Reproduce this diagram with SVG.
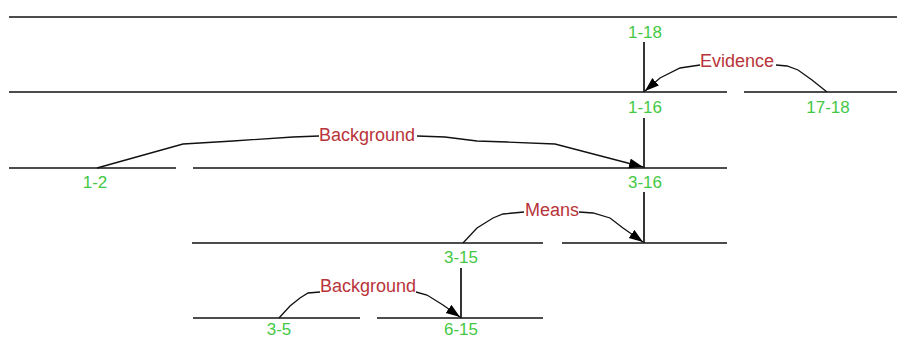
<svg xmlns="http://www.w3.org/2000/svg" width="897" height="339" viewBox="0 0 897 339">
  <style>
    .span { stroke: #111; stroke-width: 1.7; fill: none; }
    .conn { stroke: #111; stroke-width: 1.3; fill: none; }
    .lbl { font-family: "Liberation Sans", Arial, sans-serif; font-size: 17px; fill: #44c844; text-anchor: middle; }
    .rel { font-family: "Liberation Sans", Arial, sans-serif; font-size: 18px; fill: #b8343a; }
  </style>
  <defs>
    <marker id="arr" markerUnits="userSpaceOnUse" markerWidth="16" markerHeight="12" refX="14" refY="5" orient="auto">
      <path d="M0,0 L14,5 L0,10 Z" fill="#000"/>
    </marker>
  </defs>
  <rect width="897" height="339" fill="#fff"/>

  <g id="node-1-18">
    <line class="span" x1="9" y1="17" x2="897" y2="17"/>
    <text class="lbl" x="645" y="38">1-18</text>
  </g>
  <g id="node-1-16">
    <line class="span" x1="9" y1="92" x2="727" y2="92"/>
    <text class="lbl" x="645" y="113">1-16</text>
  </g>
  <g id="node-17-18">
    <line class="span" x1="744" y1="92" x2="897" y2="92"/>
    <text class="lbl" x="828" y="113">17-18</text>
  </g>
  <g id="node-1-2">
    <line class="span" x1="9" y1="168" x2="176" y2="168"/>
    <text class="lbl" x="95" y="188">1-2</text>
  </g>
  <g id="node-3-16">
    <line class="span" x1="193" y1="168" x2="727" y2="168"/>
    <text class="lbl" x="645" y="188">3-16</text>
  </g>
  <g id="node-3-15">
    <line class="span" x1="192" y1="243" x2="543" y2="243"/>
    <text class="lbl" x="461" y="263">3-15</text>
  </g>
  <g id="node-16">
    <line class="span" x1="562" y1="243" x2="727" y2="243"/>
  </g>
  <g id="node-3-5">
    <line class="span" x1="193" y1="318" x2="360" y2="318"/>
    <text class="lbl" x="279" y="335">3-5</text>
  </g>
  <g id="node-6-15">
    <line class="span" x1="377" y1="318" x2="543" y2="318"/>
    <text class="lbl" x="461" y="335">6-15</text>
  </g>

  <g id="connectors">
    <line class="span" x1="644" y1="42" x2="644" y2="92"/>
    <line class="span" x1="644" y1="118" x2="644" y2="168"/>
    <line class="span" x1="644" y1="192" x2="644" y2="243"/>
    <line class="span" x1="461" y1="268" x2="461" y2="318"/>

    <!-- Evidence -->
    <path class="conn" d="M827,92 L812,80 L798,70 L787,66 L776,65"/>
    <path class="conn" d="M700,65 L680,68 L660,78 L645,91" marker-end="url(#arr)"/>
    <text class="rel" x="700" y="67">Evidence</text>

    <!-- Background (1-2 -> 3-16) -->
    <path class="conn" d="M97,168 L183,144 L233,141 L293,137 L319,136"/>
    <path class="conn" d="M417,136 L445,137 L477,141 L507,142 L555,144 L643,167" marker-end="url(#arr)"/>
    <text class="rel" x="319" y="141">Background</text>

    <!-- Means -->
    <path class="conn" d="M463,243 L477,228 L493,218 L503,214 L524,212"/>
    <path class="conn" d="M579,212 L593,213 L610,218 L623,228 L643,242" marker-end="url(#arr)"/>
    <text class="rel" x="525" y="216">Means</text>

    <!-- Background (3-5 -> 6-15) -->
    <path class="conn" d="M279,318 L290,306 L300,298 L308,293 L320,292"/>
    <path class="conn" d="M416,292 L427,295 L443,305 L460,317" marker-end="url(#arr)"/>
    <text class="rel" x="320" y="292">Background</text>
  </g>
</svg>
